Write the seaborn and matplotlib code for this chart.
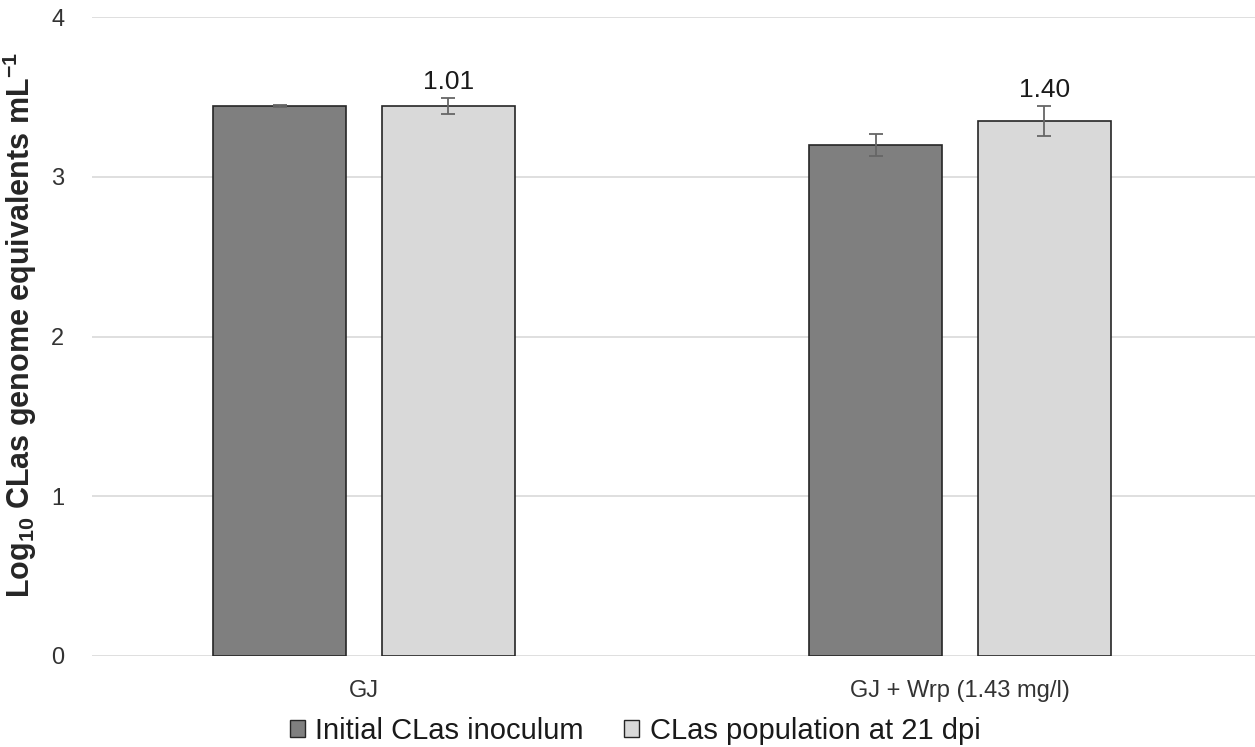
import matplotlib
matplotlib.use("Agg")
import matplotlib.pyplot as plt
import seaborn as sns
import pandas as pd
import numpy as np
from matplotlib.patches import Patch

# Data
treatments = ["GJ", "GJ + Wrp (1.43 mg/l)"]
series = ["Initial CLas inoculum", "CLas population at 21 dpi"]
initial_vals = [3.443, 3.199]
initial_err = [0.005, 0.066]
dpi21_vals = [3.443, 3.349]
dpi21_err = [0.053, 0.097]
ratio_labels = ["1.01", "1.40"]

colors = ["#7f7f7f", "#d9d9d9"]

df = pd.DataFrame({
    "treatment": treatments * 2,
    "series": [series[0]] * 2 + [series[1]] * 2,
    "value": initial_vals + dpi21_vals,
})
errs = {series[0]: initial_err, series[1]: dpi21_err}

sns.set_theme(style="white")
plt.rcParams["font.family"] = ["Liberation Sans", "DejaVu Sans"]
plt.rcParams["mathtext.fontset"] = "custom"
plt.rcParams["mathtext.rm"] = "Liberation Sans:bold"
plt.rcParams["mathtext.default"] = "rm"

fig = plt.figure(figsize=(12.55, 7.47), dpi=100)
ax = fig.add_axes([92 / 1255, 91 / 747, (1255 - 92) / 1255, (656 - 17) / 747])

sns.barplot(data=df, x="treatment", y="value", hue="series", order=treatments,
            hue_order=series, palette=colors, width=0.567, gap=0.215,
            edgecolor="#262626", linewidth=1.2, errorbar=None, legend=False,
            ax=ax, zorder=3)

# Error bars and value labels from the bar geometry
bar_containers = list(ax.containers)
for s_idx, container in enumerate(bar_containers):
    for i, bar in enumerate(container.patches):
        cx = bar.get_x() + bar.get_width() / 2
        h = bar.get_height()
        e = errs[series[s_idx]][i]
        ax.errorbar(cx, h, yerr=e, fmt="none", ecolor="#666666",
                    elinewidth=1.3, capsize=5, capthick=1.3, zorder=4)
        if s_idx == 1:
            ax.text(cx, h + e + 0.025, ratio_labels[i], ha="center", va="bottom",
                    fontsize=19, color="#1a1a1a")

ax.set_ylim(0, 4)
ax.set_yticks([0, 1, 2, 3, 4])
ax.set_xlim((92 - 364) / 596, (1255 - 364) / 596)
ax.yaxis.grid(True, color="#d9d9d9", linewidth=1.2, zorder=0)
ax.xaxis.grid(False)
for sp in ax.spines.values():
    sp.set_visible(False)
ax.tick_params(axis="both", length=0, labelsize=17, colors="#333333")
ax.tick_params(axis="y", pad=20)
ax.tick_params(axis="x", pad=17)
ax.set_xlabel("")
ax.set_ylabel(r"Log$_{10}$ CLas genome equivalents mL$^{-1}$", fontsize=22,
              fontweight="bold")
ax.yaxis.set_label_coords(-0.046, 0.518)

handles = [Patch(facecolor=c, edgecolor="#262626", linewidth=1) for c in colors]
fig.legend(handles, series, loc="center", bbox_to_anchor=(635 / 1255, 1 - 731 / 747),
           ncol=2, frameon=False, fontsize=21, labelcolor="#1a1a1a",
           handlelength=0.52, handleheight=0.52, handletextpad=0.35,
           columnspacing=1.4, borderpad=0)

fig.savefig("out.png", dpi=100)
